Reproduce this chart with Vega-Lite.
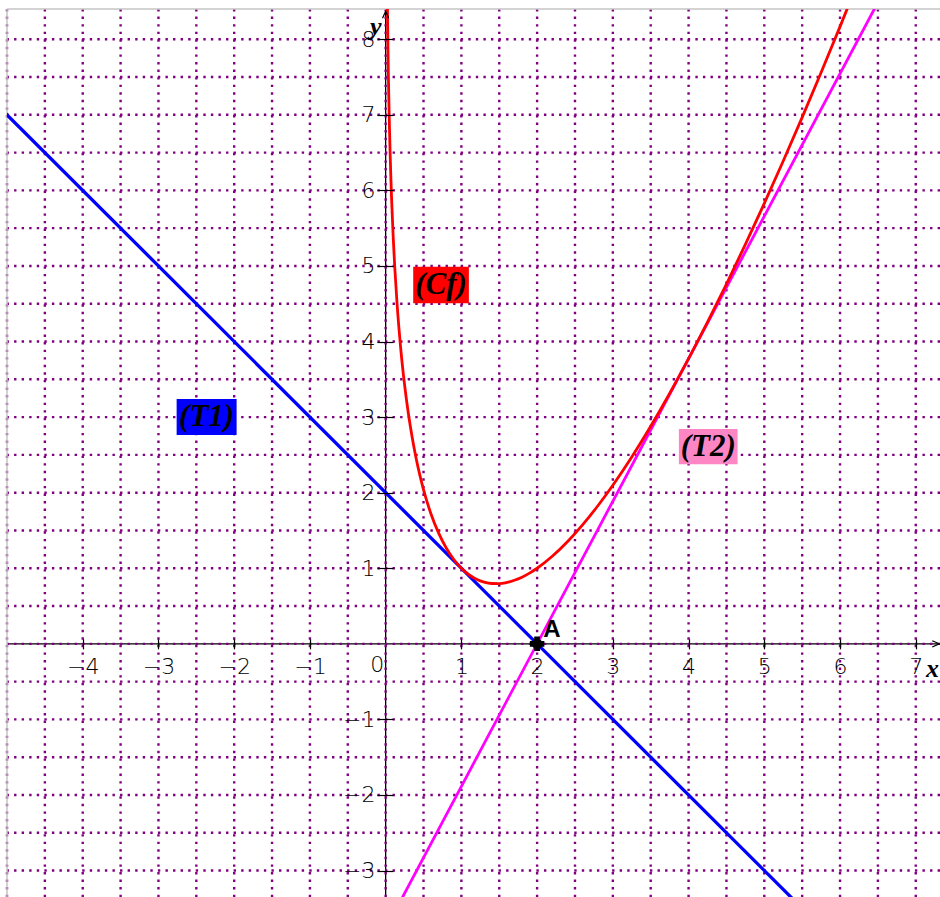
{
  "$schema": "https://vega.github.io/schema/vega-lite/v6.json",
  "width": 933,
  "height": 888,
  "autosize": {"type": "none"},
  "padding": {"left": 7, "top": 9, "right": 0, "bottom": 0},
  "background": "white",
  "view": {"stroke": null},
  "resolve": {"axis": {"x": "independent", "y": "independent"}},
  "datasets": {
    "cf": [
      {"x": 0.02, "y": 8.746}, {"x": 0.022, "y": 8.549}, {"x": 0.025, "y": 8.286}, {"x": 0.03, "y": 7.908},
      {"x": 0.035, "y": 7.587}, {"x": 0.04, "y": 7.309}, {"x": 0.05, "y": 6.842}, {"x": 0.06, "y": 6.458},
      {"x": 0.07, "y": 6.132}, {"x": 0.08, "y": 5.849}, {"x": 0.1, "y": 5.375}, {"x": 0.12, "y": 4.986},
      {"x": 0.15, "y": 4.51}, {"x": 0.2, "y": 3.897}, {"x": 0.25, "y": 3.426}, {"x": 0.3, "y": 3.047},
      {"x": 0.35, "y": 2.732}, {"x": 0.4, "y": 2.466}, {"x": 0.45, "y": 2.238}, {"x": 0.5, "y": 2.04},
      {"x": 0.6, "y": 1.715}, {"x": 0.7, "y": 1.464}, {"x": 0.8, "y": 1.268}, {"x": 0.9, "y": 1.116},
      {"x": 1.0, "y": 1.0}, {"x": 1.1, "y": 0.914}, {"x": 1.2, "y": 0.854}, {"x": 1.3, "y": 0.816},
      {"x": 1.4, "y": 0.798}, {"x": 1.5, "y": 0.797}, {"x": 1.6, "y": 0.812}, {"x": 1.7, "y": 0.841},
      {"x": 1.8, "y": 0.882}, {"x": 1.9, "y": 0.936}, {"x": 2.0, "y": 1.0}, {"x": 2.2, "y": 1.158},
      {"x": 2.4, "y": 1.35}, {"x": 2.6, "y": 1.573}, {"x": 2.8, "y": 1.824}, {"x": 3.0, "y": 2.099},
      {"x": 3.25, "y": 2.473}, {"x": 3.5, "y": 2.879}, {"x": 3.75, "y": 3.313}, {"x": 4.0, "y": 3.773},
      {"x": 4.25, "y": 4.256}, {"x": 4.5, "y": 4.76}, {"x": 4.75, "y": 5.285}, {"x": 5.0, "y": 5.828},
      {"x": 5.25, "y": 6.389}, {"x": 5.5, "y": 6.966}, {"x": 5.75, "y": 7.56}, {"x": 6.0, "y": 8.167},
      {"x": 6.25, "y": 8.789}
    ],
    "t1": [{"x": -5.2, "y": 7.2}, {"x": 5.6, "y": -3.6}],
    "t2": [{"x": 0.1, "y": -3.584}, {"x": 6.6, "y": 8.677}],
    "gv": [
      {"x": -5}, {"x": -4.5}, {"x": -4}, {"x": -3.5}, {"x": -3}, {"x": -2.5}, {"x": -2}, {"x": -1.5},
      {"x": -1}, {"x": -0.5}, {"x": 0}, {"x": 0.5}, {"x": 1}, {"x": 1.5}, {"x": 2}, {"x": 2.5},
      {"x": 3}, {"x": 3.5}, {"x": 4}, {"x": 4.5}, {"x": 5}, {"x": 5.5}, {"x": 6}, {"x": 6.5}, {"x": 7}
    ],
    "gh": [
      {"y": -3}, {"y": -2.5}, {"y": -2}, {"y": -1.5}, {"y": -1}, {"y": -0.5}, {"y": 0}, {"y": 0.5},
      {"y": 1}, {"y": 1.5}, {"y": 2}, {"y": 2.5}, {"y": 3}, {"y": 3.5}, {"y": 4}, {"y": 4.5},
      {"y": 5}, {"y": 5.5}, {"y": 6}, {"y": 6.5}, {"y": 7}, {"y": 7.5}, {"y": 8}
    ],
    "boxes": [
      {"label": "(Cf)", "x": 0.364, "x2": 1.099, "y": 4.506, "y2": 4.99, "cx": 0.731, "cy": 4.748},
      {"label": "(T1)", "x": -2.76, "x2": -1.968, "y": 2.763, "y2": 3.239, "cx": -2.364, "cy": 3.0},
      {"label": "(T2)", "x": 3.872, "x2": 4.647, "y": 2.375, "y2": 2.842, "cx": 4.26, "cy": 2.608}
    ]
  },
  "layer": [
    {
      "data": {"values": [{"x": 0}]},
      "mark": {"type": "rule", "color": "#000000", "strokeWidth": 1.3},
      "encoding": {
        "x": {
          "field": "x", "type": "quantitative",
          "scale": {"domain": [-5, 7.32], "nice": false, "zero": false},
          "axis": {
            "title": null, "values": [-4, -3, -2, -1, 1, 2, 3, 4, 5, 6, 7], "format": "d",
            "orient": "bottom", "offset": -258.17, "domain": false, "grid": false,
            "tickSize": 10, "tickColor": "#000000", "tickWidth": 1.2,
            "labelFont": "DejaVu Sans", "labelFontSize": 22, "labelFontWeight": 300, "labelColor": "#000000",
            "labelPadding": 8, "labelFlush": false, "labelOverlap": false, "zindex": 1
          }
        }
      }
    },
    {
      "data": {"values": [{"y": 0}]},
      "mark": {"type": "rule", "color": "#000000", "strokeWidth": 1.3},
      "encoding": {
        "y": {
          "field": "y", "type": "quantitative",
          "scale": {"domain": [-3.35, 8.4], "nice": false, "zero": false},
          "axis": {
            "title": null, "values": [-3, -2, -1, 1, 2, 3, 4, 5, 6, 7, 8], "format": "d",
            "orient": "left", "offset": -386, "domain": false, "grid": false,
            "tickSize": 16, "tickColor": "#000000", "tickWidth": 1.2,
            "labelFont": "DejaVu Sans", "labelFontSize": 22, "labelFontWeight": 300, "labelColor": "#000000",
            "labelPadding": 2, "labelFlush": false, "labelOverlap": false, "zindex": 1
          }
        }
      }
    },
    {
      "data": {"name": "gv"},
      "mark": {"type": "rule", "color": "#800080", "strokeWidth": 2.4, "strokeDash": [2.4, 5.17], "strokeCap": "butt"},
      "encoding": {
        "x": {"field": "x", "type": "quantitative", "scale": {"domain": [-5, 7.32], "nice": false, "zero": false}, "axis": null}
      }
    },
    {
      "data": {"name": "gh"},
      "mark": {"type": "rule", "color": "#800080", "strokeWidth": 2.4, "strokeDash": [2.4, 5.17], "strokeCap": "butt"},
      "encoding": {
        "y": {"field": "y", "type": "quantitative", "scale": {"domain": [-3.35, 8.4], "nice": false, "zero": false}, "axis": null}
      }
    },
    {
      "data": {"values": [{"y": 8.4}]},
      "mark": {"type": "rule", "color": "#c4c4c4", "strokeWidth": 1.5, "clip": false},
      "encoding": {
        "y": {"field": "y", "type": "quantitative", "scale": {"domain": [-3.35, 8.4], "nice": false, "zero": false}, "axis": null}
      }
    },
    {
      "data": {"values": [{"x": -5}]},
      "mark": {"type": "rule", "color": "#c4c4c4", "strokeWidth": 1.5, "clip": false},
      "encoding": {
        "x": {"field": "x", "type": "quantitative", "scale": {"domain": [-5, 7.32], "nice": false, "zero": false}, "axis": null}
      }
    },
    {
      "data": {"name": "boxes"},
      "mark": {"type": "rect"},
      "encoding": {
        "x": {"field": "x", "type": "quantitative", "scale": {"domain": [-5, 7.32], "nice": false, "zero": false}, "axis": null},
        "x2": {"field": "x2"},
        "y": {"field": "y", "type": "quantitative", "scale": {"domain": [-3.35, 8.4], "nice": false, "zero": false}, "axis": null},
        "y2": {"field": "y2"},
        "color": {"field": "label", "type": "nominal", "scale": {"domain": ["(Cf)", "(T1)", "(T2)"], "range": ["#ff0000", "#0000ff", "#ff86c4"]}, "legend": null}
      }
    },
    {
      "data": {"name": "boxes"},
      "mark": {"type": "text", "font": "Liberation Serif", "fontWeight": "bold", "fontStyle": "italic", "fontSize": 31, "color": "#000000", "align": "center", "baseline": "middle"},
      "encoding": {
        "x": {"field": "cx", "type": "quantitative", "scale": {"domain": [-5, 7.32], "nice": false, "zero": false}, "axis": null},
        "y": {"field": "cy", "type": "quantitative", "scale": {"domain": [-3.35, 8.4], "nice": false, "zero": false}, "axis": null},
        "text": {"field": "label"}
      }
    },
    {
      "data": {"name": "t1"},
      "mark": {"type": "line", "color": "#0000ff", "strokeWidth": 3.3, "clip": true},
      "encoding": {
        "x": {"field": "x", "type": "quantitative", "scale": {"domain": [-5, 7.32], "nice": false, "zero": false}, "axis": null},
        "y": {"field": "y", "type": "quantitative", "scale": {"domain": [-3.35, 8.4], "nice": false, "zero": false}, "axis": null}
      }
    },
    {
      "data": {"name": "t2"},
      "mark": {"type": "line", "color": "#ff00ff", "strokeWidth": 2.8, "clip": true},
      "encoding": {
        "x": {"field": "x", "type": "quantitative", "scale": {"domain": [-5, 7.32], "nice": false, "zero": false}, "axis": null},
        "y": {"field": "y", "type": "quantitative", "scale": {"domain": [-3.35, 8.4], "nice": false, "zero": false}, "axis": null}
      }
    },
    {
      "data": {"name": "cf"},
      "mark": {"type": "line", "color": "#ff0000", "strokeWidth": 2.8, "clip": true, "interpolate": "monotone"},
      "encoding": {
        "x": {"field": "x", "type": "quantitative", "scale": {"domain": [-5, 7.32], "nice": false, "zero": false}, "axis": null},
        "y": {"field": "y", "type": "quantitative", "scale": {"domain": [-3.35, 8.4], "nice": false, "zero": false}, "axis": null}
      }
    },
    {
      "data": {"values": [{"x": 2, "y": 0}]},
      "mark": {"type": "point", "shape": "circle", "filled": true, "color": "#000000", "size": 110, "opacity": 1},
      "encoding": {
        "x": {"field": "x", "type": "quantitative", "scale": {"domain": [-5, 7.32], "nice": false, "zero": false}, "axis": null},
        "y": {"field": "y", "type": "quantitative", "scale": {"domain": [-3.35, 8.4], "nice": false, "zero": false}, "axis": null}
      }
    },
    {
      "data": {"values": [{"x": 2, "y": 0}]},
      "mark": {"type": "point", "shape": "cross", "filled": true, "color": "#000000", "size": 210, "opacity": 1},
      "encoding": {
        "x": {"field": "x", "type": "quantitative", "scale": {"domain": [-5, 7.32], "nice": false, "zero": false}, "axis": null},
        "y": {"field": "y", "type": "quantitative", "scale": {"domain": [-3.35, 8.4], "nice": false, "zero": false}, "axis": null}
      }
    },
    {
      "data": {"values": [{"x": 2.195, "y": 0.183, "t": "A"}]},
      "mark": {"type": "text", "font": "Liberation Sans", "fontWeight": "bold", "fontSize": 24, "color": "#000000", "align": "center", "baseline": "middle"},
      "encoding": {
        "x": {"field": "x", "type": "quantitative", "scale": {"domain": [-5, 7.32], "nice": false, "zero": false}, "axis": null},
        "y": {"field": "y", "type": "quantitative", "scale": {"domain": [-3.35, 8.4], "nice": false, "zero": false}, "axis": null},
        "text": {"field": "t"}
      }
    },
    {
      "data": {"values": [{"x": 0, "y": 0, "t": "0"}]},
      "mark": {"type": "text", "font": "DejaVu Sans", "fontSize": 22, "fontWeight": 300, "color": "#000000", "align": "center", "baseline": "middle", "dx": -8.3, "dy": 21.6},
      "encoding": {
        "x": {"field": "x", "type": "quantitative", "scale": {"domain": [-5, 7.32], "nice": false, "zero": false}, "axis": null},
        "y": {"field": "y", "type": "quantitative", "scale": {"domain": [-3.35, 8.4], "nice": false, "zero": false}, "axis": null},
        "text": {"field": "t"}
      }
    },
    {
      "data": {"values": [{"x": -0.13, "y": 8.16, "t": "y"}, {"x": 7.22, "y": -0.333, "t": "x"}]},
      "mark": {"type": "text", "font": "Liberation Serif", "fontWeight": "bold", "fontStyle": "italic", "fontSize": 26, "color": "#000000", "align": "center", "baseline": "middle"},
      "encoding": {
        "x": {"field": "x", "type": "quantitative", "scale": {"domain": [-5, 7.32], "nice": false, "zero": false}, "axis": null},
        "y": {"field": "y", "type": "quantitative", "scale": {"domain": [-3.35, 8.4], "nice": false, "zero": false}, "axis": null},
        "text": {"field": "t"}
      }
    },
    {
      "data": {"values": [{"x": 7.31, "y": 0}]},
      "mark": {"type": "point", "shape": "M -1 -0.45 L 0 0 L -1 0.45", "filled": false, "color": "#000000", "strokeWidth": 1.2, "size": 196, "opacity": 1},
      "encoding": {
        "x": {"field": "x", "type": "quantitative", "scale": {"domain": [-5, 7.32], "nice": false, "zero": false}, "axis": null},
        "y": {"field": "y", "type": "quantitative", "scale": {"domain": [-3.35, 8.4], "nice": false, "zero": false}, "axis": null}
      }
    },
    {
      "data": {"values": [{"x": 0, "y": 8.37}]},
      "mark": {"type": "point", "shape": "M -0.45 1 L 0 0 L 0.45 1", "filled": false, "color": "#000000", "strokeWidth": 1.2, "size": 196, "opacity": 1},
      "encoding": {
        "x": {"field": "x", "type": "quantitative", "scale": {"domain": [-5, 7.32], "nice": false, "zero": false}, "axis": null},
        "y": {"field": "y", "type": "quantitative", "scale": {"domain": [-3.35, 8.4], "nice": false, "zero": false}, "axis": null}
      }
    }
  ]
}
